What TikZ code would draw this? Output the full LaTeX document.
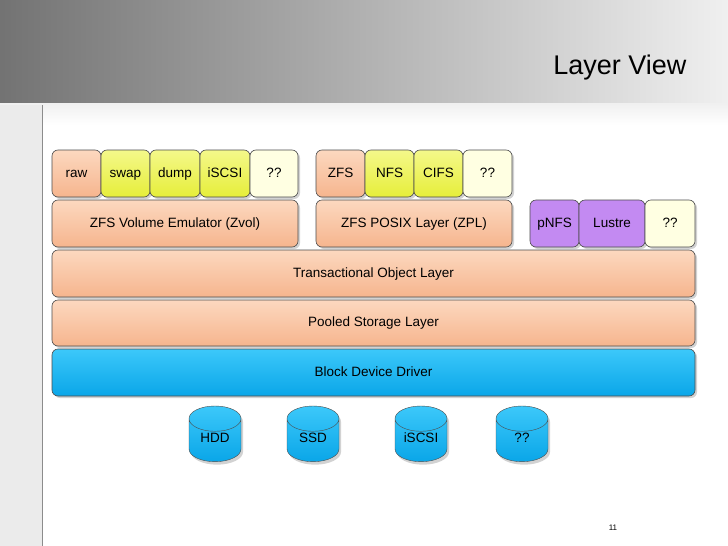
\documentclass[tikz,border=0pt]{standalone}
\usepackage{fontspec}
\setmainfont{Liberation Sans}
\usetikzlibrary{shapes.geometric,shadows}
\definecolor{peach}{HTML}{F6B58E}
\definecolor{peachL}{HTML}{FCD8BF}
\definecolor{yel}{HTML}{E6EE3A}
\definecolor{yelL}{HTML}{F4F88A}
\definecolor{pale}{HTML}{FFFFE2}
\definecolor{purp}{HTML}{C38AF2}
\definecolor{blu}{HTML}{0AA6E8}
\definecolor{bluL}{HTML}{3CC8FA}
\begin{document}
\begin{tikzpicture}[x=1pt,y=-1pt,
 blk/.style={draw=black!70,line width=0.6pt,rounded corners=6pt,drop shadow={shadow xshift=2pt,shadow yshift=-2pt,opacity=0.35},font=\fontsize{13.5}{15}\selectfont,text height=10pt,text depth=3pt},
 pe/.style={blk,top color=peachL,bottom color=peach},
 ye/.style={blk,top color=yelL,bottom color=yel},
 pa/.style={blk,fill=pale},
 pu/.style={blk,fill=purp},
 bl/.style={blk,top color=bluL,bottom color=blu},
 cyl/.style={cylinder,shape border rotate=90,aspect=0.55,draw=black!70,top color=bluL,bottom color=blu,minimum width=52pt,minimum height=48pt,inner sep=1pt,text width=44pt,align=center,drop shadow={shadow xshift=2pt,shadow yshift=-3pt,opacity=0.35},font=\fontsize{13.5}{15}\selectfont,text height=10pt,text depth=9pt}]
\useasboundingbox (0,0) rectangle (728,546);
\fill[white] (0,0) rectangle (728,546);
\shade[left color=black!55,right color=black!6] (0,0) rectangle (728,105);
\shade[top color=black!6,bottom color=white] (0,103) rectangle (728,125);
\fill[black!8] (0,105) rectangle (42,546);
\draw[black!45,line width=1pt] (42,105) -- (42,546);
\node[anchor=east,font=\fontsize{27}{30}\selectfont] (title) at (690,68) {Layer View};
\node[font=\fontsize{8}{9}\selectfont] (pg) at (613,528) {11};
\newcommand{\bx}[6]{\node[#1,minimum width=#4-#3,minimum height=#6-#5,inner sep=0pt] (#2) at ({(#3+#4)/2},{(#5+#6)/2})}
\bx{pe}{raw}{52}{101}{150}{197} {raw};
\bx{ye}{swap}{101}{150}{150}{197} {swap};
\bx{ye}{dump}{150}{200}{150}{197} {dump};
\bx{ye}{iscsiA}{200}{250}{150}{197} {iSCSI};
\bx{pa}{qqA}{250}{298}{150}{197} {??};
\bx{pe}{zfs}{316}{365}{150}{197} {ZFS};
\bx{ye}{nfs}{365}{414}{150}{197} {NFS};
\bx{ye}{cifs}{414}{463}{150}{197} {CIFS};
\bx{pa}{qqB}{463}{512}{150}{197} {??};
\bx{pe}{zvol}{52}{298}{200}{247} {ZFS Volume Emulator (Zvol)};
\bx{pe}{zpl}{316}{512}{200}{247} {ZFS POSIX Layer (ZPL)};
\bx{pu}{pnfs}{530}{579}{200}{247} {pNFS};
\bx{pu}{lustre}{579}{645}{200}{247} {Lustre};
\bx{pa}{qqC}{645}{695}{200}{247} {??};
\bx{pe}{tol}{52}{695}{250}{297} {Transactional Object Layer};
\bx{pe}{psl}{52}{695}{300}{346} {Pooled Storage Layer};
\bx{bl}{bdd}{52}{695}{349}{396} {Block Device Driver};
\node[cyl] (hdd) at (215,442) {HDD};
\node[cyl] (ssd) at (313,442) {SSD};
\node[cyl] (iscsiB) at (421,442) {iSCSI};
\node[cyl] (qqD) at (522,442) {??};
\end{tikzpicture}
\end{document}
